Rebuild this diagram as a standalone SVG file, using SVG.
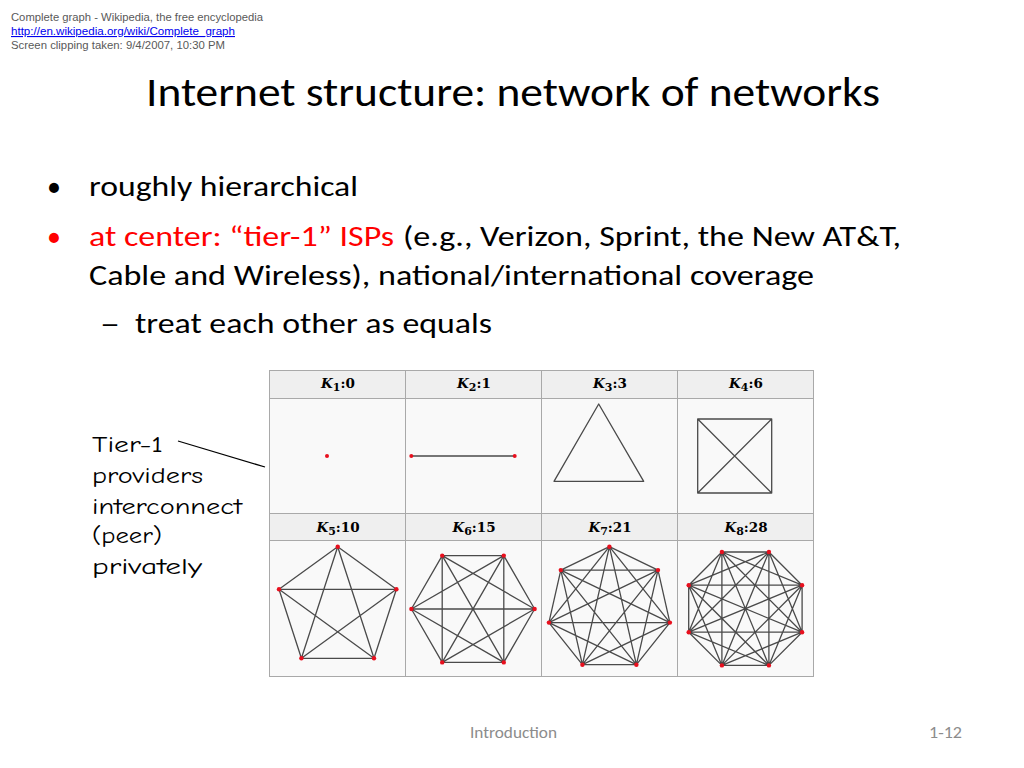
<svg xmlns="http://www.w3.org/2000/svg" width="1024" height="768" viewBox="0 0 1024 768">
<style>
.clip{font-family:"Liberation Sans",Arial,sans-serif;font-size:11px;fill:#595959}
.link{fill:#0000ee;text-decoration:underline}
.title{font-family:Carlito,Calibri,"Open Sans",sans-serif;font-size:40px;fill:#000}
.body{font-family:Carlito,Calibri,"Open Sans",sans-serif;font-size:28px;fill:#000}
.red{fill:#ff0000}
.note{font-family:"Comic Sans MS","Comic Neue","DejaVu Sans",sans-serif;font-size:23px;fill:#000}
.foot{font-family:Carlito,Calibri,"Open Sans",sans-serif;font-size:16px;fill:#8c8c8c}
.hd{font-family:"DejaVu Serif","Liberation Serif",serif;font-size:13.5px;font-weight:bold;fill:#000}
.cell{stroke:#a9a9a9;stroke-width:1}
.edge{fill:none;stroke:#4a4a4a;stroke-width:1.3;stroke-linejoin:round}
.v{fill:#e8101e}
</style>

<g id="clipping">
<text class="clip" x="11" y="21" textLength="252" lengthAdjust="spacingAndGlyphs">Complete graph - Wikipedia, the free encyclopedia</text>
<text class="clip link" x="11" y="35" textLength="224" lengthAdjust="spacingAndGlyphs">http://en.wikipedia.org/wiki/Complete_graph</text>
<text class="clip" x="11" y="49" textLength="214" lengthAdjust="spacingAndGlyphs">Screen clipping taken: 9/4/2007, 10:30 PM</text>
</g>

<text id="title" class="title" x="146" y="106" textLength="734" lengthAdjust="spacingAndGlyphs">Internet structure: network of networks</text>

<g id="bullets">
<text class="body" x="47" y="196">•</text>
<text class="body" x="89" y="196" textLength="269" lengthAdjust="spacingAndGlyphs">roughly hierarchical</text>
<text class="body red" x="47" y="246">•</text>
<text class="body red" x="89" y="246" textLength="305" lengthAdjust="spacingAndGlyphs">at center: “tier-1” ISPs</text>
<text class="body" x="403" y="246" textLength="498" lengthAdjust="spacingAndGlyphs">(e.g., Verizon, Sprint, the New AT&amp;T,</text>
<text class="body" x="89" y="285" textLength="725" lengthAdjust="spacingAndGlyphs">Cable and Wireless), national/international coverage</text>
<text class="body" x="100" y="333" textLength="20" lengthAdjust="spacingAndGlyphs">–</text>
<text class="body" x="135" y="333" textLength="357" lengthAdjust="spacingAndGlyphs">treat each other as equals</text>
</g>

<g id="note">
<text class="note" x="92" y="452" textLength="71" lengthAdjust="spacingAndGlyphs">Tier-1</text>
<text class="note" x="92" y="483" textLength="111" lengthAdjust="spacingAndGlyphs">providers</text>
<text class="note" x="92" y="514" textLength="150" lengthAdjust="spacingAndGlyphs">interconnect</text>
<text class="note" x="92" y="543" textLength="70" lengthAdjust="spacingAndGlyphs">(peer)</text>
<text class="note" x="92" y="574" textLength="110" lengthAdjust="spacingAndGlyphs">privately</text>
</g>

<g id="connectors">
<line x1="178" y1="441" x2="265" y2="467" stroke="#000" stroke-width="1.3"/>
</g>

<g id="table">
<rect x="269.5" y="370.5" width="544" height="28" fill="#efefef"/>
<rect x="269.5" y="398.5" width="544" height="115" fill="#f9f9f9"/>
<rect x="269.5" y="513.5" width="544" height="27" fill="#efefef"/>
<rect x="269.5" y="540.5" width="544" height="136" fill="#f9f9f9"/>
<g class="cell">
<rect x="269.5" y="370.5" width="544" height="306" fill="none"/>
<line x1="405.5" y1="370.5" x2="405.5" y2="676.5"/>
<line x1="541.5" y1="370.5" x2="541.5" y2="676.5"/>
<line x1="677.5" y1="370.5" x2="677.5" y2="676.5"/>
<line x1="269.5" y1="398.5" x2="813.5" y2="398.5"/>
<line x1="269.5" y1="513.5" x2="813.5" y2="513.5"/>
<line x1="269.5" y1="540.5" x2="813.5" y2="540.5"/>
</g>
<text class="hd" x="338" y="388" text-anchor="middle"><tspan font-style="italic">K</tspan><tspan dy="3" font-size="11">1</tspan><tspan dy="-3">:0</tspan></text>
<text class="hd" x="474" y="388" text-anchor="middle"><tspan font-style="italic">K</tspan><tspan dy="3" font-size="11">2</tspan><tspan dy="-3">:1</tspan></text>
<text class="hd" x="610" y="388" text-anchor="middle"><tspan font-style="italic">K</tspan><tspan dy="3" font-size="11">3</tspan><tspan dy="-3">:3</tspan></text>
<text class="hd" x="746" y="388" text-anchor="middle"><tspan font-style="italic">K</tspan><tspan dy="3" font-size="11">4</tspan><tspan dy="-3">:6</tspan></text>
<text class="hd" x="338" y="532" text-anchor="middle"><tspan font-style="italic">K</tspan><tspan dy="3" font-size="11">5</tspan><tspan dy="-3">:10</tspan></text>
<text class="hd" x="474" y="532" text-anchor="middle"><tspan font-style="italic">K</tspan><tspan dy="3" font-size="11">6</tspan><tspan dy="-3">:15</tspan></text>
<text class="hd" x="610" y="532" text-anchor="middle"><tspan font-style="italic">K</tspan><tspan dy="3" font-size="11">7</tspan><tspan dy="-3">:21</tspan></text>
<text class="hd" x="746" y="532" text-anchor="middle"><tspan font-style="italic">K</tspan><tspan dy="3" font-size="11">8</tspan><tspan dy="-3">:28</tspan></text>
</g>

<g id="K1">
<circle class="v" cx="327" cy="456" r="2"/>
</g>
<g id="K2">
<line class="edge" x1="411.3" y1="456" x2="514.7" y2="456" stroke="#777"/>
<circle class="v" cx="411.3" cy="456" r="2"/>
<circle class="v" cx="514.7" cy="456" r="2"/>
</g>
<g id="K3">
<path class="edge" d="M598.7,404 L643.7,481.3 L554,481.3 Z" stroke="#666"/>
</g>
<g id="K4">
<path class="edge" d="M697.7,419 L771.7,419 L771.7,493 L697.7,493 Z M697.7,419 L771.7,493 M771.7,419 L697.7,493" stroke="#666"/>
</g>
<g id="K5">
<path class="edge" d="M337.7,546.7 L396.4,589.3 L374,658.3 L301.4,658.3 L279,589.3 Z M337.7,546.7 L374,658.3 L279,589.3 L396.4,589.3 L301.4,658.3 Z"/>
<circle class="v" cx="337.7" cy="546.7" r="2.2"/>
<circle class="v" cx="396.4" cy="589.3" r="2.2"/>
<circle class="v" cx="374" cy="658.3" r="2.2"/>
<circle class="v" cx="301.4" cy="658.3" r="2.2"/>
<circle class="v" cx="279" cy="589.3" r="2.2"/>
</g>
<g id="K6">
<path class="edge" d="M442.2,555.6 L503.8,555.6 L534.6,609 L503.8,662.4 L442.2,662.4 L411.4,609 Z M442.2,555.6 L534.6,609 L442.2,662.4 Z M503.8,555.6 L503.8,662.4 L411.4,609 Z M442.2,555.6 L503.8,662.4 M503.8,555.6 L442.2,662.4 M534.6,609 L411.4,609"/>
<circle class="v" cx="442.2" cy="555.6" r="2.2"/>
<circle class="v" cx="503.8" cy="555.6" r="2.2"/>
<circle class="v" cx="534.6" cy="609" r="2.2"/>
<circle class="v" cx="503.8" cy="662.4" r="2.2"/>
<circle class="v" cx="442.2" cy="662.4" r="2.2"/>
<circle class="v" cx="411.4" cy="609" r="2.2"/>
</g>
<g id="K7">
<path class="edge" d="M609.4,546.7 L658,570.1 L669.9,622.6 L636.4,664.7 L582.4,664.7 L548.9,622.6 L560.8,570.1 Z M609.4,546.7 L669.9,622.6 L582.4,664.7 L560.8,570.1 L658,570.1 L636.4,664.7 L548.9,622.6 Z M609.4,546.7 L636.4,664.7 L560.8,570.1 L669.9,622.6 L548.9,622.6 L658,570.1 L582.4,664.7 Z"/>
<circle class="v" cx="609.4" cy="546.7" r="2.2"/>
<circle class="v" cx="658" cy="570.1" r="2.2"/>
<circle class="v" cx="669.9" cy="622.6" r="2.2"/>
<circle class="v" cx="636.4" cy="664.7" r="2.2"/>
<circle class="v" cx="582.4" cy="664.7" r="2.2"/>
<circle class="v" cx="548.9" cy="622.6" r="2.2"/>
<circle class="v" cx="560.8" cy="570.1" r="2.2"/>
</g>
<g id="K8">
<path class="edge" d="M768.9,552 L802.1,585.2 L802.1,632.2 L768.9,665.4 L721.9,665.4 L688.7,632.2 L688.7,585.2 L721.9,552 Z M768.9,552 L802.1,632.2 L721.9,665.4 L688.7,585.2 Z M802.1,585.2 L768.9,665.4 L688.7,632.2 L721.9,552 Z M768.9,552 L768.9,665.4 L688.7,585.2 L802.1,585.2 L721.9,665.4 L721.9,552 L802.1,632.2 L688.7,632.2 Z M768.9,552 L721.9,665.4 M802.1,585.2 L688.7,632.2 M802.1,632.2 L688.7,585.2 M768.9,665.4 L721.9,552"/>
<circle class="v" cx="768.9" cy="552" r="2.2"/>
<circle class="v" cx="802.1" cy="585.2" r="2.2"/>
<circle class="v" cx="802.1" cy="632.2" r="2.2"/>
<circle class="v" cx="768.9" cy="665.4" r="2.2"/>
<circle class="v" cx="721.9" cy="665.4" r="2.2"/>
<circle class="v" cx="688.7" cy="632.2" r="2.2"/>
<circle class="v" cx="688.7" cy="585.2" r="2.2"/>
<circle class="v" cx="721.9" cy="552" r="2.2"/>
</g>

<g id="footer">
<text class="foot" x="470" y="738" textLength="87" lengthAdjust="spacingAndGlyphs">Introduction</text>
<text class="foot" x="929" y="738" textLength="33" lengthAdjust="spacingAndGlyphs">1-12</text>
</g>
</svg>
